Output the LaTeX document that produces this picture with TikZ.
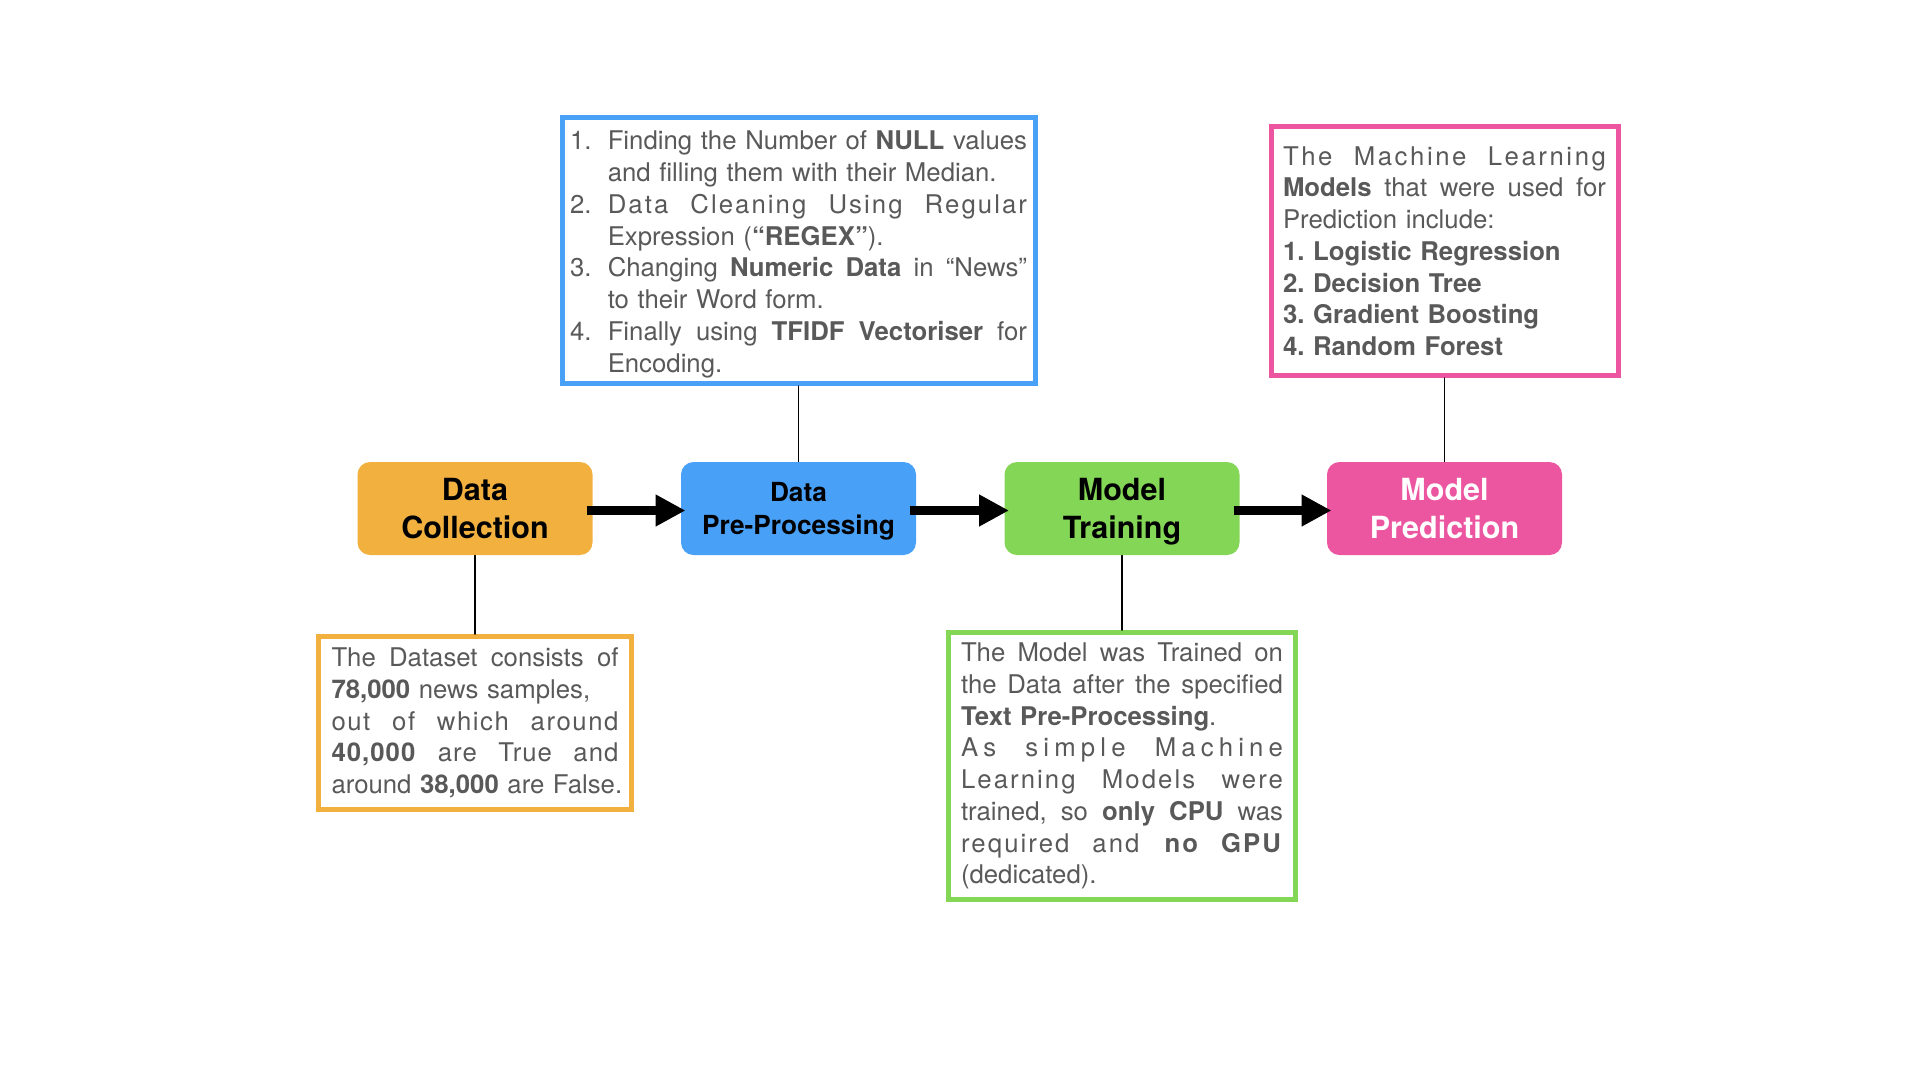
\documentclass[tikz,border=0pt]{standalone}
\usepackage{fontspec}
\setmainfont{TeX Gyre Heros}
\usetikzlibrary{arrows.meta}
\setlength{\parindent}{0pt}
\frenchspacing

\definecolor{collectorange}{HTML}{F2B13F}
\definecolor{prepblue}{HTML}{49A0F7}
\definecolor{traingreen}{HTML}{84D656}
\definecolor{predictpink}{HTML}{EC55A0}
\definecolor{notegray}{HTML}{595959}

% \lw is set at the start of each note: the width of its lines
\newcommand{\lw}{100pt}
\newcommand{\fillspace}{\spaceskip=0.278em plus 1fil\relax}
\newcommand{\jline}[1]{\makebox[\lw][s]{\fillspace#1}\\}
\newcommand{\sline}[2]{{\addfontfeature{LetterSpace=#1}\makebox[\lw][s]{\fillspace#2}}\\}
\newcommand{\itemline}[2]{\makebox[15.1pt][l]{#1}\makebox[\dimexpr\lw-15.1pt\relax][s]{\fillspace#2}\\}
\newcommand{\moreline}[1]{\hspace*{15.1pt}\mbox{#1}\\}

\begin{document}
\begin{tikzpicture}[line cap=round,line join=round,>={Triangle[length=12pt,width=12pt]},x=0.4pt,y=-0.4pt,
    stepbox/.style={rounded corners=5pt, minimum width=94pt, minimum height=37.2pt, inner sep=0pt, align=center, text depth=0pt, font=\fontsize{12.2}{15.3}\selectfont\bfseries},
    notebox/.style={draw, line width=2pt, line join=miter, inner sep=0pt, align=left, text=notegray, font=\fontsize{10.3}{12.7}\selectfont},
    link/.style={line width=0.6pt},
    flow/.style={->, line cap=butt, line width=3.3pt}]
    \useasboundingbox (0,0) rectangle (1920,1080);

    \node[stepbox, fill=collectorange] (collect) at (475,508.5) {Data\\Collection};
    \node[stepbox, fill=prepblue, font=\fontsize{10.5}{13.1}\selectfont\bfseries] (preproc) at (798.5,508.5) {Data\\Pre-Processing};
    \node[stepbox, fill=traingreen] (train) at (1122,508.5) {Model\\Training};
    \node[stepbox, fill=predictpink, text=white] (predict) at (1444.5,508.5) {Model\\Prediction};

    \node[notebox, draw=prepblue, minimum width=189.2pt, minimum height=106.4pt, text width=182.8pt] (preprocnote) at (798.5,250.5) {%
        \renewcommand{\lw}{182.8pt}%
        \rule{0pt}{10.6pt}\itemline{1.}{Finding the Number of \textbf{NULL} values}
        \moreline{and filling them with their Median.}
        \itemline{2.}{{\addfontfeature{LetterSpace=8}Data Cleaning Using Regular}}
        \moreline{Expression (\textbf{“REGEX”}).}
        \itemline{3.}{Changing \textbf{Numeric Data} in “News”}
        \moreline{to their Word form.}
        \itemline{4.}{Finally using \textbf{TFIDF Vectoriser} for}
        \moreline{Encoding.}};

    \node[notebox, draw=predictpink, minimum width=138.8pt, minimum height=99.6pt, text width=129.2pt] (predictnote) at (1444.5,251) {%
        \renewcommand{\lw}{129.2pt}%
        \sline{10}{The Machine Learning}
        \jline{\textbf{Models} that were used for}
        Prediction include:\\
        \textbf{1. Logistic Regression}\\
        \textbf{2. Decision Tree}\\
        \textbf{3. Gradient Boosting}\\
        \textbf{4. Random Forest}};

    \node[notebox, draw=collectorange, minimum width=125.2pt, minimum height=69.2pt, text width=114.8pt] (collectnote) at (475,723) {%
        \renewcommand{\lw}{114.8pt}%
        \jline{The Dataset consists of}
        \textbf{78,000} news samples,\\
        \sline{6}{out of which around}
        \sline{4}{\textbf{40,000} are True and}
        \mbox{around \textbf{38,000} are False.}};

    \node[notebox, draw=traingreen, minimum width=138.8pt, minimum height=106.8pt, text width=128.8pt] (trainnote) at (1122,766) {%
        \renewcommand{\lw}{128.8pt}%
        \jline{The Model was Trained on}
        \jline{the Data after the specified}
        \textbf{Text Pre-Processing}.\\
        \sline{20}{As simple Machine}
        \sline{8}{Learning Models were}
        \jline{trained, so \textbf{only CPU} was}
        \sline{8}{required and \textbf{no GPU}}
        (dedicated).};

    \draw[flow] ([xshift=-2.6pt,yshift=-0.8pt]collect.east) -- ([xshift=2pt,yshift=-0.8pt]preproc.west);
    \draw[flow] ([xshift=-2.6pt,yshift=-0.8pt]preproc.east) -- ([xshift=2pt,yshift=-0.8pt]train.west);
    \draw[flow] ([xshift=-2.6pt,yshift=-0.8pt]train.east) -- ([xshift=2pt,yshift=-0.8pt]predict.west);

    \draw[link] (preprocnote.south) -- (preproc.north);
    \draw[link] (predictnote.south) -- (predict.north);
    \draw[link] (collect.south) -- (collectnote.north);
    \draw[link] (train.south) -- (trainnote.north);
\end{tikzpicture}
\end{document}
